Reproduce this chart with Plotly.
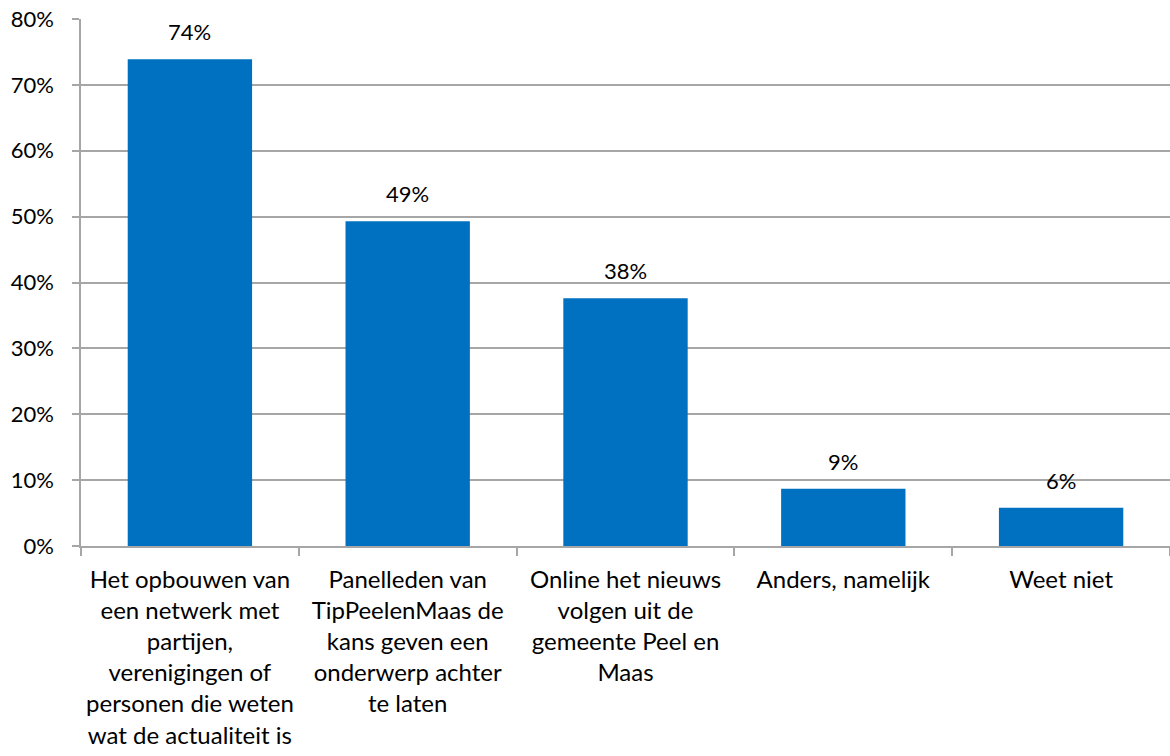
import plotly.graph_objects as go

categories = [
    "Het opbouwen van<br>een netwerk met<br>partijen,<br>verenigingen of<br>personen die weten<br>wat de actualiteit is",
    "Panelleden van<br>TipPeelenMaas de<br>kans geven een<br>onderwerp achter<br>te laten",
    "Online het nieuws<br>volgen uit de<br>gemeente Peel en<br>Maas",
    "Anders, namelijk",
    "Weet niet",
]
values = [0.739, 0.493, 0.376, 0.087, 0.058]
y_ticks = [0, 0.1, 0.2, 0.3, 0.4, 0.5, 0.6, 0.7, 0.8]
y_tick_labels = ["0%", "10%", "20%", "30%", "40%", "50%", "60%", "70%", "80%"]

labels = [f"{round(v * 100)}%" for v in values]

FONT = "Lato"
FS = 22

fig = go.Figure(
    go.Bar(
        x=categories,
        y=values,
        marker=dict(color="#0070C0", line=dict(width=0)),
        width=0.571,
        hoverinfo="x+y",
    )
)

for c, v, t in zip(categories, values, labels):
    fig.add_annotation(
        x=c, y=v, text=t, showarrow=False,
        yanchor="bottom", yshift=12,
        font=dict(family=FONT, size=FS, color="#000000"),
    )

fig.update_layout(
    width=1170,
    height=756,
    margin=dict(l=81, r=0, t=19, b=210, autoexpand=False),
    paper_bgcolor="white",
    plot_bgcolor="white",
    showlegend=False,
    font=dict(family=FONT, size=FS, color="#000000"),
)

fig.update_xaxes(
    automargin=False,
    showline=True,
    linecolor="#A6A6A6",
    linewidth=1.5,
    ticks="outside",
    tickson="boundaries",
    ticklen=8,
    tickcolor="#A6A6A6",
    tickwidth=1.5,
    tickfont=dict(family=FONT, size=24, color="#000000"),
    showgrid=False,
    tickangle=0,
    ticklabelstandoff=11,
)

fig.update_yaxes(
    automargin=False,
    range=[0, 0.80001],
    tickvals=y_ticks,
    ticktext=y_tick_labels,
    showline=True,
    linecolor="#A6A6A6",
    linewidth=1.5,
    ticks="outside",
    ticklen=7,
    tickcolor="#A6A6A6",
    tickwidth=1.5,
    showgrid=True,
    gridcolor="#A6A6A6",
    gridwidth=1.5,
    zeroline=False,
    tickfont=dict(family=FONT, size=FS, color="#000000"),
    ticklabelstandoff=14,
    ticklabeloverflow="allow",
)

fig.write_html(
    "out.html",
    config={"displayModeBar": False},
    post_script="document.body.style.margin='0';document.body.style.overflow='hidden';",
)
